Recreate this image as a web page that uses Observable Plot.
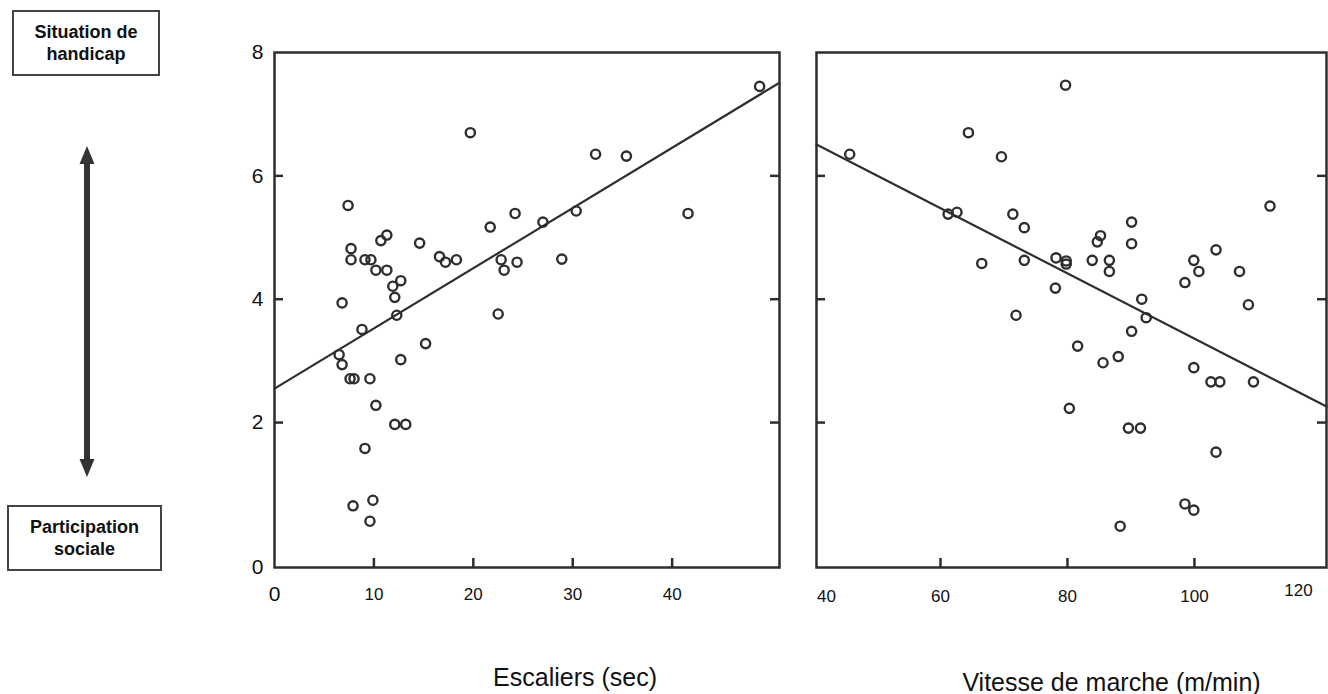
<!DOCTYPE html>
<html>
<head>
<meta charset="utf-8">
<script src="https://cdn.jsdelivr.net/npm/d3@7"></script>
<script src="https://cdn.jsdelivr.net/npm/@observablehq/plot@0.6"></script>
<style>
  html, body { margin: 0; padding: 0; background: #fff; }
  #wrap { position: relative; width: 1328px; height: 694px; overflow: hidden; font-family: Arial, "Liberation Sans", Helvetica, sans-serif; }
  .box { position: absolute; box-sizing: border-box; border: 2px solid #444; display: flex; align-items: center; justify-content: center; text-align: center; font-weight: bold; font-size: 18px; line-height: 22px; color: #111; }
  .panel { position: absolute; top: 0; }
</style>
</head>
<body>
<div id="wrap">
  <div class="box" id="boxTop" style="left:12px; top:10px; width:148px; height:66px;"></div>
  <div class="box" id="boxBottom" style="left:7px; top:505px; width:155px; height:66px;"></div>
  <svg style="position:absolute; left:0; top:0;" width="175" height="694">
    <rect x="84" y="160" width="6" height="304" fill="#333"></rect>
    <polygon points="87,146 79.5,164 94.5,164" fill="#333"></polygon>
    <polygon points="87,477 79.5,459 94.5,459" fill="#333"></polygon>
  </svg>
</div>
<script>
// ---- Annotation text ----
const topLabelLines = ["Situation de", "handicap"];
const bottomLabelLines = ["Participation", "sociale"];

// ---- Shared y axis ----
const Y_MIN = -0.35, Y_MAX = 8;
const yTickPos = [Y_MIN, 2, 4, 6, 8];
const yTickLabels = ["0", "2", "4", "6", "8"];
const yInnerTicks = [2, 4, 6];

// ---- Left panel: Escaliers (sec) ----
const escTitle = "Escaliers (sec)";
const escDomain = [0, 50.8];
const escTicks = [10, 20, 30, 40];
const escZeroTick = [0];
const escX = [19.7, 7.4, 7.7, 7.7, 9.1, 9.7, 10.7, 11.3, 10.2, 11.3, 14.6, 11.9, 12.7, 12.1, 6.8, 16.6, 17.2, 18.3, 21.7, 24.2, 22.8, 23.1, 24.4, 22.5, 12.3, 48.8, 32.3, 35.4, 27.0, 30.35, 41.6, 28.9, 8.8, 15.2, 6.5, 6.8, 7.6, 8.0, 9.6, 12.7, 10.2, 12.1, 13.2, 9.1, 7.9, 9.9, 9.6];
const escY = [6.70, 5.52, 4.82, 4.64, 4.64, 4.64, 4.95, 5.04, 4.47, 4.47, 4.91, 4.21, 4.30, 4.03, 3.94, 4.69, 4.60, 4.64, 5.17, 5.39, 4.64, 4.47, 4.60, 3.76, 3.74, 7.45, 6.35, 6.32, 5.25, 5.43, 5.39, 4.65, 3.51, 3.28, 3.10, 2.94, 2.71, 2.71, 2.71, 3.02, 2.28, 1.97, 1.97, 1.58, 0.65, 0.74, 0.40];
const escFitX = [0, 50.8];
const escFitY = [2.55, 7.51];

// ---- Right panel: Vitesse de marche (m/min) ----
const vitTitle = "Vitesse de marche (m/min)";
const vitDomain = [40.47, 120.8];
const vitTicks = [60, 80, 100];
const vitEdgeLabelLeft = ["40"];
const vitEdgeLabelRight = ["120"];
const vitX = [45.7, 64.4, 69.6, 79.7, 61.2, 62.6, 71.4, 73.2, 66.5, 73.2, 78.2, 79.8, 79.8, 78.1, 71.9, 111.9, 90.1, 85.2, 84.7, 90.1, 83.9, 86.6, 86.6, 103.4, 99.9, 100.7, 107.1, 98.5, 108.5, 91.7, 92.4, 90.1, 81.6, 85.6, 88.0, 99.9, 102.6, 104.0, 109.3, 80.3, 89.6, 91.5, 103.4, 98.5, 99.9, 88.3];
const vitY = [6.35, 6.70, 6.31, 7.47, 5.38, 5.41, 5.38, 5.16, 4.58, 4.63, 4.67, 4.62, 4.57, 4.18, 3.74, 5.51, 5.25, 5.03, 4.93, 4.90, 4.63, 4.63, 4.45, 4.80, 4.63, 4.45, 4.45, 4.27, 3.91, 4.00, 3.70, 3.48, 3.24, 2.97, 3.07, 2.89, 2.66, 2.66, 2.66, 2.23, 1.91, 1.91, 1.52, 0.68, 0.58, 0.32];
const vitFitX = [40.47, 120.8];
const vitFitY = [6.51, 2.26];

// ---- Styles ----
const FONT = 'Arial, "Liberation Sans", Helvetica, sans-serif';
const INK = "#2e2e2e";
const TEXT = "#111";

document.getElementById("boxTop").innerHTML = topLabelLines.join("<br>");
document.getElementById("boxBottom").innerHTML = bottomLabelLines.join("<br>");

const toRows = (xs, ys) => xs.map((x, i) => ({x, y: ys[i]}));

function commonMarks(ticksX) {
  return [
    Plot.frame({stroke: INK, strokeWidth: 2.5}),
    Plot.axisY({ticks: yInnerTicks, anchor: "left", tickSize: 9, dx: 9, stroke: INK, strokeWidth: 2.5, fill: "none", label: null}),
    Plot.axisY({ticks: yInnerTicks, anchor: "right", tickSize: 10, dx: -10, stroke: INK, strokeWidth: 2.5, fill: "none", label: null}),
    Plot.axisX({ticks: ticksX, anchor: "bottom", tickSize: 9, dy: -9, stroke: INK, strokeWidth: 2.5, fill: "none", label: null})
  ];
}

const leftPlot = Plot.plot({
  width: 790, height: 694,
  marginLeft: 274, marginRight: 11, marginTop: 52, marginBottom: 127,
  x: {domain: escDomain, label: null},
  y: {domain: [Y_MIN, Y_MAX], label: null},
  style: {fontFamily: FONT, background: "transparent", overflow: "visible"},
  marks: [
    ...commonMarks(escTicks),
    Plot.axisY({ticks: yTickPos, anchor: "left", tickSize: 0, tickPadding: 11, fontSize: 21, fill: TEXT, label: null,
      tickFormat: d => yTickLabels[yTickPos.indexOf(d)]}),
    Plot.axisX({ticks: escTicks, anchor: "bottom", tickSize: 0, tickPadding: 20, fontSize: 17, fill: TEXT, label: null}),
    Plot.axisX({ticks: escZeroTick, anchor: "bottom", tickSize: 0, tickPadding: 19, fontSize: 21, fill: TEXT, label: null}),
    Plot.line(toRows(escFitX, escFitY), {x: "x", y: "y", stroke: INK, strokeWidth: 2.2}),
    Plot.dot(toRows(escX, escY), {x: "x", y: "y", r: 4.6, stroke: INK, strokeWidth: 2.4, fill: "none"}),
    Plot.text([escTitle], {text: d => d, frameAnchor: "bottom", dx: 48, dy: 118, lineAnchor: "bottom", fontSize: 25, fill: TEXT})
  ]
});

const rightPlot = Plot.plot({
  width: 538, height: 694,
  marginLeft: 26, marginRight: 2, marginTop: 52, marginBottom: 127,
  x: {domain: vitDomain, label: null},
  y: {domain: [Y_MIN, Y_MAX], label: null},
  style: {fontFamily: FONT, background: "transparent", overflow: "visible"},
  marks: [
    ...commonMarks(vitTicks),
    Plot.axisX({ticks: vitTicks, anchor: "bottom", tickSize: 0, tickPadding: 22, fontSize: 17, fill: TEXT, label: null}),
    Plot.text(vitEdgeLabelLeft, {text: d => d, frameAnchor: "bottom-left", dx: 10, dy: 22, lineAnchor: "top", textAnchor: "middle", fontSize: 17, fill: TEXT}),
    Plot.text(vitEdgeLabelRight, {text: d => d, frameAnchor: "bottom-right", dx: -28, dy: 16, lineAnchor: "top", textAnchor: "middle", fontSize: 17, fill: TEXT}),
    Plot.line(toRows(vitFitX, vitFitY), {x: "x", y: "y", stroke: INK, strokeWidth: 2.2}),
    Plot.dot(toRows(vitX, vitY), {x: "x", y: "y", r: 4.6, stroke: INK, strokeWidth: 2.4, fill: "none"}),
    Plot.text([vitTitle], {text: d => d, frameAnchor: "bottom", dx: 40, dy: 123, lineAnchor: "bottom", fontSize: 25, fill: TEXT})
  ]
});

leftPlot.classList.add("panel");
leftPlot.style.left = "0px";
rightPlot.classList.add("panel");
rightPlot.style.left = "790px";
const wrap = document.getElementById("wrap");
wrap.appendChild(leftPlot);
wrap.appendChild(rightPlot);
</script>
</body>
</html>
